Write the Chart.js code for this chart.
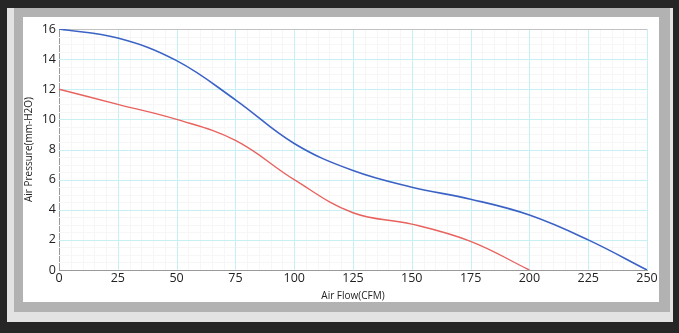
<!DOCTYPE html>
<html><head><meta charset="utf-8">
<script src="https://cdn.jsdelivr.net/npm/chart.js@4/dist/chart.umd.min.js"></script>
<style>
html,body{margin:0;padding:0;background:#262626;width:679px;height:333px;overflow:hidden;}
#outer{position:absolute;left:7px;top:8px;width:666px;height:314px;background:#e3e3e3;}
#gray{position:absolute;left:14px;top:8px;width:656px;height:304px;background:#b2b2b2;}
#white{position:absolute;left:23px;top:17px;width:636px;height:285px;background:#ffffff;}
#c{position:absolute;left:23px;top:17px;}
</style></head><body>
<div id="outer"></div><div id="gray"></div><div id="white"></div>
<canvas id="c" width="636" height="285"></canvas>
<script>
const airFlow = [0, 25, 50, 75, 100, 125, 150, 175, 200, 225, 250];
const pressureBlue = [16, 15.4, 13.9, 11.3, 8.4, 6.6, 5.5, 4.7, 3.65, 2.0, 0];
const airFlowRed = [0, 25, 50, 75, 100, 125, 150, 175, 200];
const pressureRed = [12, 11.0, 10.0, 8.6, 6.0, 3.8, 3.05, 1.9, 0];
const xTicks = [0, 25, 50, 75, 100, 125, 150, 175, 200, 225, 250];
const yTicks = [0, 2, 4, 6, 8, 10, 12, 14, 16];

const FONT = "'Open Sans', 'Noto Sans', sans-serif";

const gridPlugin = {
  id: 'gridPlugin',
  beforeDatasetsDraw(chart) {
    const {ctx, chartArea: a, scales: {x, y}} = chart;
    ctx.save();
    ctx.lineWidth = 1;
    const vline = (v, c) => {
      const px = Math.round(x.getPixelForValue(v)) + 0.5;
      ctx.strokeStyle = c;
      ctx.beginPath(); ctx.moveTo(px, a.top); ctx.lineTo(px, a.bottom); ctx.stroke();
    };
    const hline = (v, c) => {
      const py = Math.round(y.getPixelForValue(v)) + 0.5;
      ctx.strokeStyle = c;
      ctx.beginPath(); ctx.moveTo(a.left, py); ctx.lineTo(a.right, py); ctx.stroke();
    };
    for (let v = 5; v < 250; v += 5) if (v % 25 !== 0) vline(v, '#f6f6f6');
    for (let v = 0.5; v < 16; v += 0.5) if (v % 2 !== 0) hline(v, '#f6f6f6');
    xTicks.forEach(v => { if (v > 0) vline(v, '#c6f0f3'); });
    yTicks.forEach(v => { if (v > 0 && v < 16) hline(v, '#c6f0f3'); });
    hline(16, '#c2c2c2');
    ctx.restore();
  }
};

new Chart(document.getElementById('c'), {
  type: 'line',
  data: {
    datasets: [
      { data: airFlow.map((v, i) => ({x: v, y: pressureBlue[i]})), borderColor: '#3b63c6', borderWidth: 1.6, pointRadius: 0, tension: 0.4, fill: false },
      { data: airFlowRed.map((v, i) => ({x: v, y: pressureRed[i]})), borderColor: '#e8625e', borderWidth: 1.4, pointRadius: 0, tension: 0.4, fill: false }
    ]
  },
  options: {
    responsive: false, animation: false,
    layout: { padding: { top: 12, right: 12, left: 0, bottom: 0 } },
    plugins: { legend: { display: false }, tooltip: { enabled: false } },
    scales: {
      x: {
        type: 'linear', min: 0, max: 250,
        afterBuildTicks: s => { s.ticks = xTicks.map(v => ({value: v})); },
        afterFit: s => { s.height = 32; },
        grid: { display: false, drawTicks: false },
        border: { display: true, color: '#9a9a9a', dash: [1, 1] },
        ticks: { color: '#222', font: { family: FONT, size: 12.5 }, padding: 1, maxRotation: 0, autoSkip: false },
        title: { display: true, text: 'Air Flow(CFM)', color: '#222', font: { family: FONT, size: 10 }, padding: { top: -1, bottom: 0 } }
      },
      y: {
        type: 'linear', min: 0, max: 16,
        afterBuildTicks: s => { s.ticks = yTicks.map(v => ({value: v})); },
        afterFit: s => { s.width = 36; },
        grid: { display: false, drawTicks: false },
        border: { display: true, color: '#9a9a9a', dash: [1, 1] },
        ticks: { color: '#222', font: { family: FONT, size: 12.5 }, padding: 3, autoSkip: false },
        title: { display: true, text: 'Air Pressure(mm-H2O)', color: '#222', font: { family: FONT, size: 10 }, padding: { top: 0, bottom: 2 } }
      }
    }
  },
  plugins: [gridPlugin]
});
</script>
</body></html>
